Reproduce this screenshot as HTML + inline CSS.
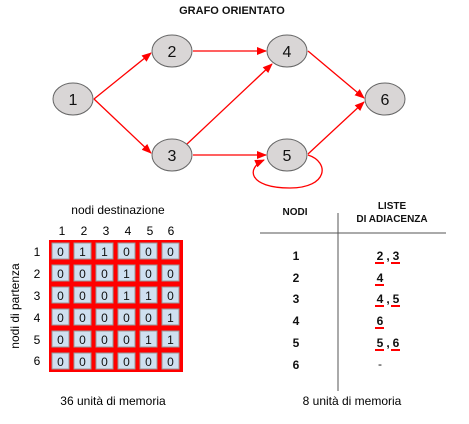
<!DOCTYPE html>
<html><head><style>body{margin:0;background:#fff;width:469px;height:419px;overflow:hidden}</style></head><body>
<svg width="469" height="419" xmlns="http://www.w3.org/2000/svg" font-family="Liberation Sans, sans-serif">
<defs><marker id="a" markerWidth="10" markerHeight="8" refX="9" refY="4" orient="auto" markerUnits="userSpaceOnUse"><path d="M0,0 L10,4 L0,8 z" fill="red"/></marker></defs>
<text x="232" y="14" font-size="11" font-weight="bold" text-anchor="middle" fill="#111">GRAFO ORIENTATO</text>
<g stroke="red" stroke-width="1.3" fill="none" marker-end="url(#a)">
<line x1="94" y1="99" x2="151" y2="53"/>
<line x1="94" y1="99" x2="151" y2="153"/>
<line x1="193" y1="51" x2="266" y2="51"/>
<line x1="187" y1="144" x2="272" y2="64"/>
<line x1="193" y1="155" x2="266" y2="155"/>
<line x1="308" y1="51" x2="364" y2="98"/>
<line x1="308" y1="154" x2="364" y2="102"/>
<path d="M308,155 C330,162 328,188 290,188 C248,188 246,168 264,160"/>
</g>
<g fill="#d9d6d6" stroke="#666" stroke-width="1">
<ellipse cx="73" cy="99" rx="20" ry="16"/><ellipse cx="172" cy="51" rx="20" ry="16"/>
<ellipse cx="287" cy="51" rx="20" ry="16"/><ellipse cx="385" cy="99" rx="20" ry="16"/>
<ellipse cx="172" cy="155" rx="20" ry="16"/><ellipse cx="287" cy="155" rx="20" ry="16"/>
</g>
<g font-size="16" text-anchor="middle" fill="#111">
<text x="73" y="105">1</text><text x="172" y="57">2</text><text x="287" y="57">4</text>
<text x="385" y="105">6</text><text x="172" y="161">3</text><text x="287" y="161">5</text>
</g>
<text x="118" y="214" font-size="12" text-anchor="middle">nodi destinazione</text>
<text transform="translate(19,306) rotate(-90)" font-size="12" text-anchor="middle">nodi di partenza</text>
<rect x="49" y="240" width="134" height="132" fill="red"/>
<g font-size="12" text-anchor="middle">
<text x="62" y="235">1</text><text x="84" y="235">2</text><text x="106" y="235">3</text><text x="128" y="235">4</text><text x="150" y="235">5</text><text x="171" y="235">6</text>
<text x="37" y="256">1</text><text x="37" y="278">2</text><text x="37" y="300">3</text><text x="37" y="322">4</text><text x="37" y="344">5</text><text x="37" y="365">6</text>
</g>
<g fill="#cfe0f0" stroke="#999" stroke-width="1">
<rect x="52" y="243" width="17" height="16"/><rect x="74" y="243" width="17" height="16"/><rect x="96" y="243" width="17" height="16"/><rect x="118" y="243" width="17" height="16"/><rect x="140" y="243" width="17" height="16"/><rect x="162" y="243" width="17" height="16"/>
<rect x="52" y="265" width="17" height="16"/><rect x="74" y="265" width="17" height="16"/><rect x="96" y="265" width="17" height="16"/><rect x="118" y="265" width="17" height="16"/><rect x="140" y="265" width="17" height="16"/><rect x="162" y="265" width="17" height="16"/>
<rect x="52" y="287" width="17" height="16"/><rect x="74" y="287" width="17" height="16"/><rect x="96" y="287" width="17" height="16"/><rect x="118" y="287" width="17" height="16"/><rect x="140" y="287" width="17" height="16"/><rect x="162" y="287" width="17" height="16"/>
<rect x="52" y="309" width="17" height="16"/><rect x="74" y="309" width="17" height="16"/><rect x="96" y="309" width="17" height="16"/><rect x="118" y="309" width="17" height="16"/><rect x="140" y="309" width="17" height="16"/><rect x="162" y="309" width="17" height="16"/>
<rect x="52" y="331" width="17" height="16"/><rect x="74" y="331" width="17" height="16"/><rect x="96" y="331" width="17" height="16"/><rect x="118" y="331" width="17" height="16"/><rect x="140" y="331" width="17" height="16"/><rect x="162" y="331" width="17" height="16"/>
<rect x="52" y="353" width="17" height="16"/><rect x="74" y="353" width="17" height="16"/><rect x="96" y="353" width="17" height="16"/><rect x="118" y="353" width="17" height="16"/><rect x="140" y="353" width="17" height="16"/><rect x="162" y="353" width="17" height="16"/>
</g>
<g font-size="12" text-anchor="middle" fill="#111">
<text x="60.5" y="256">0</text><text x="82.5" y="256">1</text><text x="104.5" y="256">1</text><text x="126.5" y="256">0</text><text x="148.5" y="256">0</text><text x="170.5" y="256">0</text>
<text x="60.5" y="278">0</text><text x="82.5" y="278">0</text><text x="104.5" y="278">0</text><text x="126.5" y="278">1</text><text x="148.5" y="278">0</text><text x="170.5" y="278">0</text>
<text x="60.5" y="300">0</text><text x="82.5" y="300">0</text><text x="104.5" y="300">0</text><text x="126.5" y="300">1</text><text x="148.5" y="300">1</text><text x="170.5" y="300">0</text>
<text x="60.5" y="322">0</text><text x="82.5" y="322">0</text><text x="104.5" y="322">0</text><text x="126.5" y="322">0</text><text x="148.5" y="322">0</text><text x="170.5" y="322">1</text>
<text x="60.5" y="344">0</text><text x="82.5" y="344">0</text><text x="104.5" y="344">0</text><text x="126.5" y="344">0</text><text x="148.5" y="344">1</text><text x="170.5" y="344">1</text>
<text x="60.5" y="366">0</text><text x="82.5" y="366">0</text><text x="104.5" y="366">0</text><text x="126.5" y="366">0</text><text x="148.5" y="366">0</text><text x="170.5" y="366">0</text>
</g>
<text x="113" y="405" font-size="12" text-anchor="middle">36 unità di memoria</text>
<line x1="338" y1="213" x2="338" y2="391" stroke="#555" stroke-width="1"/>
<line x1="260" y1="233" x2="446" y2="233" stroke="#555" stroke-width="1"/>
<g font-size="10" font-weight="bold" fill="#111">
<text x="295" y="215" text-anchor="middle">NODI</text>
<text x="392" y="209" text-anchor="middle">LISTE</text>
<text x="392" y="222" text-anchor="middle">DI ADIACENZA</text>
</g>
<g font-size="12" font-weight="bold" fill="#111" text-anchor="middle">
<text x="296" y="260">1</text><text x="296" y="282">2</text><text x="296" y="303">3</text><text x="296" y="325">4</text><text x="296" y="347">5</text><text x="296" y="369">6</text>
<text x="380" y="260">2</text><text x="388" y="260">,</text><text x="396" y="260">3</text>
<text x="380" y="282">4</text>
<text x="380" y="303">4</text><text x="388" y="303">,</text><text x="396" y="303">5</text>
<text x="380" y="325">6</text>
<text x="380" y="347">5</text><text x="388" y="347">,</text><text x="396" y="347">6</text>
<text x="380" y="368" font-weight="normal">-</text>
</g>
<g stroke="red" stroke-width="2">
<line x1="375" y1="263" x2="384" y2="263"/><line x1="391" y1="263" x2="400" y2="263"/>
<line x1="375" y1="285" x2="384" y2="285"/>
<line x1="375" y1="306" x2="384" y2="306"/><line x1="391" y1="306" x2="400" y2="306"/>
<line x1="375" y1="328" x2="384" y2="328"/>
<line x1="375" y1="350" x2="384" y2="350"/><line x1="391" y1="350" x2="400" y2="350"/>
</g>
<text x="352" y="405" font-size="12" text-anchor="middle">8 unità di memoria</text>
</svg>
</body></html>
